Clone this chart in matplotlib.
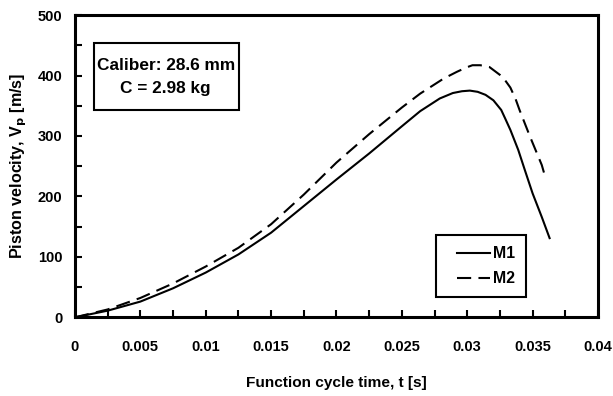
import matplotlib
matplotlib.use("Agg")
import numpy as np
import matplotlib.pyplot as plt
from matplotlib.patches import Rectangle
from matplotlib.ticker import MultipleLocator, FixedLocator, FixedFormatter
from matplotlib.legend_handler import HandlerLine2D

plt.rcParams['font.family'] = ['Liberation Sans', 'DejaVu Sans']
plt.rcParams['font.weight'] = 'bold'

# Data
t_m1 = [0, 0.0025, 0.005, 0.0075, 0.01, 0.0125, 0.015, 0.0175, 0.02, 0.0225,
        0.025, 0.0264, 0.0279, 0.0289, 0.0296, 0.0302, 0.0308, 0.0314, 0.032,
        0.0326, 0.0329, 0.0333, 0.0339, 0.0344, 0.035, 0.0357, 0.0363]
v_m1 = [0, 11, 26, 48, 74, 104, 140, 184, 228, 271,
        316, 341, 362, 371, 374, 375, 373, 368, 359,
        343, 329, 310, 277, 244, 205, 166, 131]

t_m2 = [0, 0.0025, 0.005, 0.0075, 0.01, 0.0125, 0.015, 0.0175, 0.02, 0.0225,
        0.025, 0.0264, 0.0282, 0.0292, 0.0299, 0.0304, 0.031, 0.0317, 0.0325,
        0.0329, 0.0333, 0.0337, 0.034, 0.0348, 0.0357, 0.0359]
v_m2 = [0, 13, 32, 56, 84, 115, 154, 203, 256, 303,
        347, 370, 395, 406, 413, 417, 417, 414, 401,
        392, 380, 361, 343, 299, 252, 237]

x_ticks = [0, 0.005, 0.01, 0.015, 0.02, 0.025, 0.03, 0.035, 0.04]
x_tick_labels = ['0', '0.005', '0.01', '0.015', '0.02', '0.025', '0.03', '0.035', '0.04']
y_ticks = [0, 100, 200, 300, 400, 500]


class ShiftedLineHandler(HandlerLine2D):
    """Draw the legend line only in the right part of the handle box."""
    def get_xdata(self, legend, xdescent, ydescent, width, height, fontsize):
        x0 = -xdescent + 0.22 * width
        x1 = -xdescent + width
        return np.array([x0, x1]), np.array([(x0 + x1) / 2])


fig = plt.figure(figsize=(6.13, 3.96), dpi=100)
ax = fig.add_axes([0.1223, 0.1987, 0.8532, 0.7633])

l1, = ax.plot(t_m1, v_m1, color='black', lw=1.5, label='M1')
l2, = ax.plot(t_m2, v_m2, color='black', lw=1.5, linestyle=(0, (6.8, 3.5)), label='M2')

ax.set_xlim(0, 0.04)
ax.set_ylim(0, 500)
ax.xaxis.set_major_locator(FixedLocator(x_ticks))
ax.xaxis.set_major_formatter(FixedFormatter(x_tick_labels))
ax.xaxis.set_minor_locator(MultipleLocator(0.0025))
ax.yaxis.set_major_locator(FixedLocator(y_ticks))
ax.yaxis.set_minor_locator(MultipleLocator(50))

for s in ax.spines.values():
    s.set_linewidth(2.2)

ax.tick_params(axis='both', which='both', direction='in', width=1.5,
               labelsize=10.5, top=False, right=False, length=5)
ax.tick_params(axis='x', which='both', pad=16)
ax.tick_params(axis='y', which='both', pad=9)
for lab in ax.get_xticklabels() + ax.get_yticklabels():
    lab.set_fontweight('bold')

ax.set_xlabel('Function cycle time, t [s]', fontsize=11.1, fontweight='bold', labelpad=16)
ax.set_ylabel('Piston velocity, V$_\\mathbf{p}$ [m/s]', fontsize=11.6, fontweight='bold', labelpad=6)

# Annotation box
ax.add_patch(Rectangle((0.0363, 0.6857), 0.2772, 0.2216, transform=ax.transAxes,
                       fill=False, edgecolor='black', lw=1.5))
ax.text(0.1735, 0.834, 'Caliber: 28.6 mm', transform=ax.transAxes,
        ha='center', va='center', fontsize=12.4, fontweight='bold')
ax.text(0.1735, 0.758, 'C = 2.98 kg', transform=ax.transAxes,
        ha='center', va='center', fontsize=12.4, fontweight='bold')

leg = ax.legend(loc='lower left', bbox_to_anchor=(0.690, 0.066), borderaxespad=0,
                fancybox=False, edgecolor='black', framealpha=1,
                prop={'weight': 'bold', 'size': 11.4}, handlelength=2.75,
                handletextpad=0.15, borderpad=0.7, labelspacing=0.62,
                handler_map={l1: ShiftedLineHandler(), l2: ShiftedLineHandler()})
leg.get_frame().set_linewidth(1.5)

fig.savefig('out.png', dpi=100)
